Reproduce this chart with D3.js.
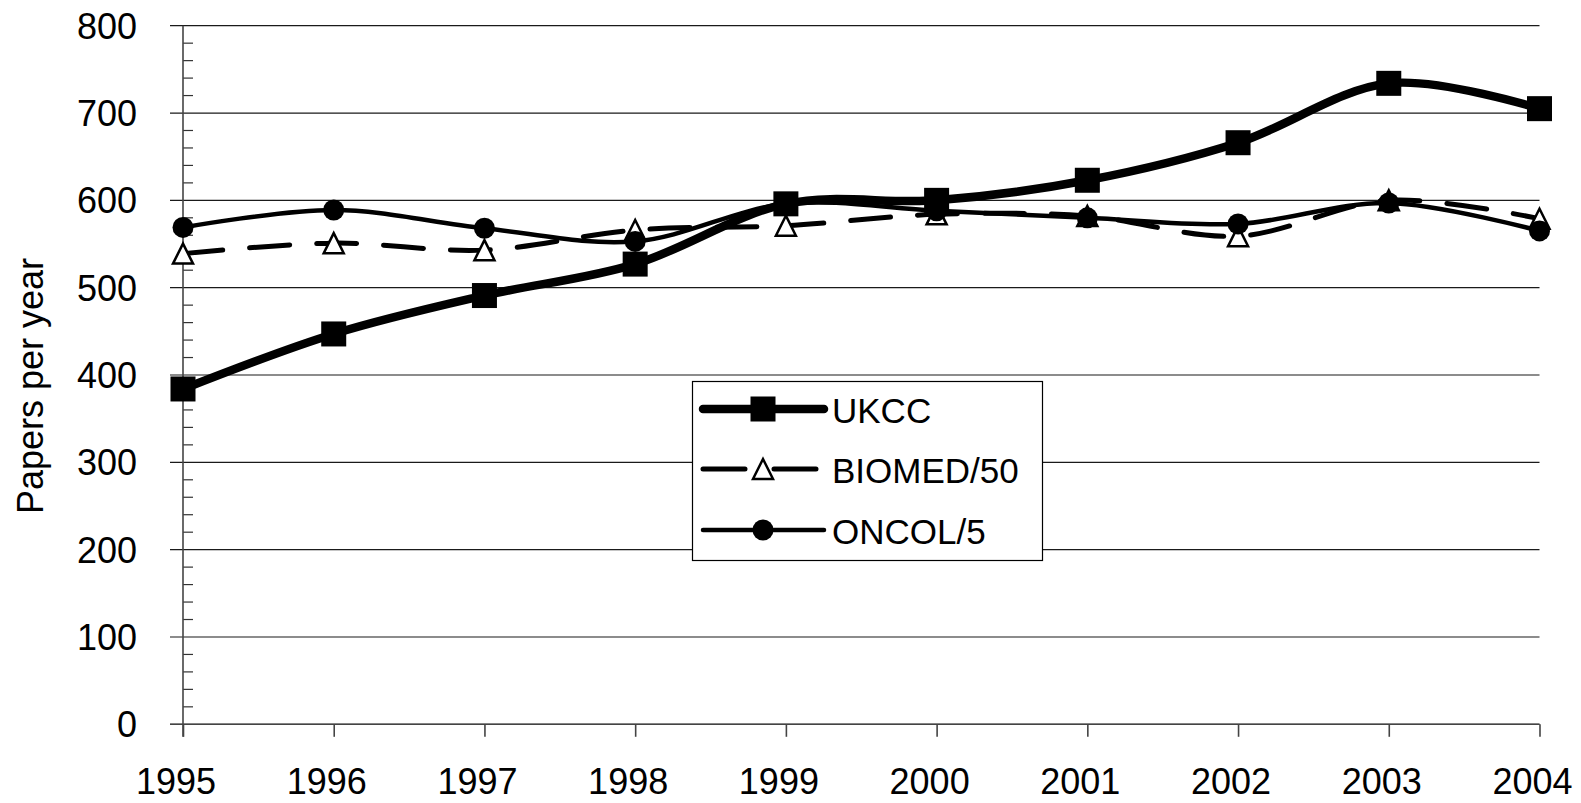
<!DOCTYPE html>
<html>
<head>
<meta charset="utf-8">
<script src="https://cdn.jsdelivr.net/npm/d3@7"></script>
<style>
  html, body { margin: 0; padding: 0; background: #fff; }
  svg { display: block; }
  text { font-family: "Liberation Sans", Arial, sans-serif; fill: #000; }
</style>
</head>
<body>
<svg id="chart" width="1581" height="803"></svg>
<script>
const years = [1995, 1996, 1997, 1998, 1999, 2000, 2001, 2002, 2003, 2004];
const ukcc = [384, 447, 491, 527, 596, 600, 623, 666, 734, 705];
const biomed = [539, 551, 543, 566, 571, 584, 582, 559, 600, 579];
const oncol = [569, 589, 568, 553, 596, 588, 580, 573, 597, 565];
const yTicks = [0, 100, 200, 300, 400, 500, 600, 700, 800];
const seriesNames = ["UKCC", "BIOMED/50", "ONCOL/5"];
const yLabel = "Papers per year";

const svg = d3.select("#chart");
const x = d3.scalePoint().domain(years).range([183, 1539.5]);
const y = d3.scaleLinear().domain([0, 800]).range([724.3, 25.7]);

// gridlines
svg.append("g").selectAll("line").data(yTicks).join("line")
  .attr("x1", 170).attr("x2", 1539.5)
  .attr("y1", d => y(d)).attr("y2", d => y(d))
  .attr("stroke", "#1a1a1a").attr("stroke-width", 1.2);

// minor ticks (inside)
const minor = d3.range(0, 801, 20).filter(v => v % 100 !== 0);
svg.append("g").selectAll("line").data(minor).join("line")
  .attr("x1", 183).attr("x2", 193)
  .attr("y1", d => y(d)).attr("y2", d => y(d))
  .attr("stroke", "#333").attr("stroke-width", 1.2);

// y axis line
svg.append("line").attr("x1", 183).attr("x2", 183)
  .attr("y1", y(800)).attr("y2", y(0) + 12.5)
  .attr("stroke", "#444").attr("stroke-width", 1.6);
// x axis line
svg.append("line").attr("x1", 170).attr("x2", 1539.5)
  .attr("y1", y(0)).attr("y2", y(0))
  .attr("stroke", "#444").attr("stroke-width", 1.6);

// x axis ticks & labels
const xAxis = d3.axisBottom(x).tickSize(12.5).tickPadding(0).tickFormat(d3.format("d"));
const gx = svg.append("g").attr("transform", `translate(0,${y(0)})`).call(xAxis);
gx.select(".domain").remove();
gx.selectAll(".tick line").attr("stroke", "#444").attr("stroke-width", 1.6);
gx.selectAll(".tick text").attr("y", 70).attr("x", -7.5).attr("dy", 0)
  .style("font-size", "36px").style("font-family", '"Liberation Sans", Arial, sans-serif');

// y axis labels
const yAxis = d3.axisLeft(y).tickValues(yTicks).tickSize(0).tickPadding(0);
const gy = svg.append("g").attr("transform", "translate(137,0)").call(yAxis);
gy.select(".domain").remove();
gy.selectAll(".tick text").attr("x", 0).attr("dy", "0.35em")
  .style("font-size", "36px").style("font-family", '"Liberation Sans", Arial, sans-serif');

// y label
svg.append("text")
  .attr("transform", "translate(43,386) rotate(-90)")
  .attr("text-anchor", "middle")
  .style("font-size", "36px")
  .text(yLabel);

const curve = d3.curveCardinal.tension(0);
const line = d3.line().x((d, i) => x(years[i])).y(d => y(d)).curve(curve);

function triPath(cx, cy, s) {
  return `M${cx},${cy - s / 2}L${cx + s / 2},${cy + s / 2}L${cx - s / 2},${cy + s / 2}Z`;
}

// BIOMED
svg.append("path").datum(biomed).attr("d", line)
  .attr("fill", "none").attr("stroke", "#000").attr("stroke-width", 5)
  .attr("stroke-dasharray", "40,27").attr("stroke-linecap", "round");
svg.append("g").selectAll("path").data(biomed).join("path")
  .attr("d", (d, i) => triPath(x(years[i]), y(d), 20))
  .attr("fill", "#fff").attr("stroke", "#000").attr("stroke-width", 2.5)
  .attr("stroke-linejoin", "miter");

// ONCOL
svg.append("path").datum(oncol).attr("d", line)
  .attr("fill", "none").attr("stroke", "#000").attr("stroke-width", 4.5);
svg.append("g").selectAll("circle").data(oncol).join("circle")
  .attr("cx", (d, i) => x(years[i])).attr("cy", d => y(d)).attr("r", 10.5)
  .attr("fill", "#000");

// UKCC
svg.append("path").datum(ukcc).attr("d", line)
  .attr("fill", "none").attr("stroke", "#000").attr("stroke-width", 8.5)
  .attr("stroke-linejoin", "round");
svg.append("g").selectAll("rect").data(ukcc).join("rect")
  .attr("x", (d, i) => x(years[i]) - 12.5).attr("y", d => y(d) - 12.5)
  .attr("width", 25).attr("height", 25).attr("fill", "#000");

// legend
const lg = svg.append("g");
lg.append("rect").attr("x", 692.5).attr("y", 381.5).attr("width", 350).attr("height", 179)
  .attr("fill", "#fff").attr("stroke", "#000").attr("stroke-width", 1.2);
const legY = [409, 469, 530];
const x0 = 703, x1 = 824, xm = 763;
// UKCC
lg.append("line").attr("x1", x0).attr("x2", x1).attr("y1", legY[0]).attr("y2", legY[0])
  .attr("stroke", "#000").attr("stroke-width", 8.5).attr("stroke-linecap", "round");
lg.append("rect").attr("x", xm - 12.5).attr("y", legY[0] - 12.5).attr("width", 25).attr("height", 25).attr("fill", "#000");
// BIOMED
lg.append("line").attr("x1", x0).attr("x2", 820).attr("y1", legY[1]).attr("y2", legY[1])
  .attr("stroke", "#000").attr("stroke-width", 5).attr("stroke-linecap", "round")
  .attr("stroke-dasharray", "42,29");
lg.append("path").attr("d", triPath(xm, legY[1], 20))
  .attr("fill", "#fff").attr("stroke", "#000").attr("stroke-width", 2.5);
// ONCOL
lg.append("line").attr("x1", x0).attr("x2", x1).attr("y1", legY[2]).attr("y2", legY[2])
  .attr("stroke", "#000").attr("stroke-width", 4.5).attr("stroke-linecap", "round");
lg.append("circle").attr("cx", xm).attr("cy", legY[2]).attr("r", 10.5).attr("fill", "#000");

lg.selectAll("text.leg").data(seriesNames).join("text").attr("class", "leg")
  .attr("x", 832).attr("y", (d, i) => legY[i] + 14)
  .style("font-size", "35px").text(d => d);
</script>
</body>
</html>
